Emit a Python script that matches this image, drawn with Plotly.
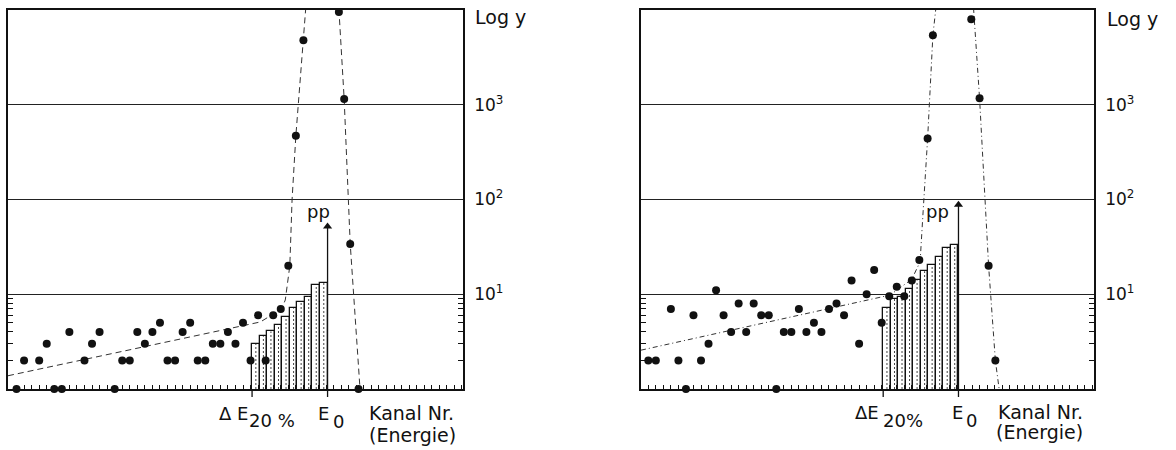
import numpy as np
import plotly.graph_objects as go

# ---------------- data: left panel ----------------
left_channels = [0, 1, 3, 4, 5, 6, 7, 9, 10, 11, 13, 14, 15, 16, 17, 18, 19, 20, 21, 22,
                 23, 24, 25, 26, 27, 28, 29, 30, 31, 32, 33, 34, 35, 36, 37, 38,
                 42.7, 43.4, 44.2, 45.3]
left_counts = [1, 2, 2, 3, 1, 1, 4, 2, 3, 4, 1, 2, 2, 4, 3, 4, 5, 2, 2, 4,
               5, 2, 2, 3, 3, 4, 3, 5, 2, 6, 2, 6, 7, 20, 470, 4800,
               9500, 1150, 34, 1]
left_fit_rise_x = [-1.13, 32.3, 35.1, 35.6, 36.2, 36.5, 37.0, 38.0, 38.3]
left_fit_rise_y = [1.38, 5.1, 7.0, 8.7, 20, 100, 470, 4800, 10200]
left_fit_fall_x = [42.7, 43.4, 44.2, 45.5]
left_fit_fall_y = [10200, 1150, 34, 1.0]
left_bar_x = [31.7, 32.7, 33.7, 34.7, 35.7, 36.7, 37.7, 38.7, 39.7, 40.7]
left_bar_counts = [3.0, 3.6, 4.05, 4.75, 5.7, 7.1, 8.2, 9.45, 12.5, 13.2]
left_pp_top = 52

# ---------------- data: right panel ----------------
right_channels = [0, 1, 3, 4, 5, 6, 7, 8, 9, 10, 11, 12, 13, 14, 15, 16, 17, 18, 19, 20,
                  21, 22, 23, 24, 25, 26, 27, 28, 29, 30, 31, 32, 33, 34, 35, 36,
                  37.1, 37.8, 42.9, 44.0, 45.2, 46.1]
right_counts = [2, 2, 7, 2, 1, 6, 2, 3, 11, 6, 4, 8, 4, 8, 6, 6, 1, 4, 4, 7,
                4, 5, 4, 7, 8, 6, 14, 3, 10, 18, 5, 9.5, 12, 9.5, 14, 23,
                440, 5400, 8000, 1170, 20, 2]
right_fit_rise_x = [-0.97, 32.1, 35.0, 36.1, 36.5, 37.1, 37.8, 38.2]
right_fit_rise_y = [2.57, 9.8, 14.4, 22, 74, 440, 5400, 10500]
right_fit_fall_x = [43.2, 44.0, 45.2, 46.1, 46.6]
right_fit_fall_y = [10500, 1170, 20, 2, 1.0]
right_bar_x = [31.7, 32.7, 33.7, 34.7, 35.7, 36.7, 37.7, 38.7, 39.7, 40.7]
right_bar_counts = [7.2, 8.9, 9.3, 11.3, 14.0, 17.5, 20.4, 24.8, 30.7, 32.8]
right_pp_top = 88

y_tick_vals = [10, 100, 1000]
y_tick_text = ["10<sup>1</sup>", "10<sup>2</sup>", "10<sup>3</sup>"]
minor_vals = [2, 3, 4, 5, 6, 7, 8, 9]

W, H = 1176, 450
FONT = "DejaVu Sans"
INK = "#111111"
Y_RANGE = [0.0, 4.0]


def px(x):
    return x / W


def py(y):
    return 1 - y / H


fig = go.Figure()
shapes = []


def add_panel(xa, ya, ch, counts, fx1, fy1, fx2, fy2, bx, bc, dash, top):
    # bars
    fig.add_trace(go.Bar(x=bx, y=bc, width=[1.0] * len(bx),
                         marker=dict(color="white", line=dict(color=INK, width=1.3)),
                         xaxis=xa, yaxis=ya, showlegend=False, hoverinfo="skip"))
    # dotted centre lines inside bars
    lx, ly = [], []
    base = 10 ** Y_RANGE[0]
    for x, c in zip(bx, bc):
        lx += [x, x, None]
        ly += [base, c, None]
    fig.add_trace(go.Scatter(x=lx, y=ly, mode="lines",
                             line=dict(color="#444", width=1, dash="2px,2px"),
                             xaxis=xa, yaxis=ya, showlegend=False, hoverinfo="skip"))
    # fitted dashed curves
    for fx, fy in ((fx1, fy1), (fx2, fy2)):
        fig.add_trace(go.Scatter(x=fx, y=fy, mode="lines",
                                 line=dict(color="#333", width=1, dash=dash),
                                 xaxis=xa, yaxis=ya, showlegend=False, hoverinfo="skip"))
    # data points
    fig.add_trace(go.Scatter(x=ch, y=counts, mode="markers",
                             marker=dict(color=INK, size=8),
                             cliponaxis=False, xaxis=xa, yaxis=ya, showlegend=False))
    # E0 arrow (pp) and Delta-E marker
    e0 = bx[-1] + 0.5
    de = bx[0] - 0.5
    shapes.append(dict(type="line", xref=xa, yref=ya, x0=e0, x1=e0, y0=base, y1=top,
                       line=dict(color=INK, width=1.3)))
    fig.add_trace(go.Scatter(x=[e0], y=[top], mode="markers",
                             marker=dict(symbol="triangle-up", size=8, color=INK),
                             cliponaxis=False, xaxis=xa, yaxis=ya, showlegend=False,
                             hoverinfo="skip"))
    for xv in (e0, de):
        shapes.append(dict(type="line", xref=xa, yref="paper", x0=xv, x1=xv,
                           y0=py(389), y1=py(397), line=dict(color=INK, width=1.3)))


add_panel("x", "y", left_channels, left_counts, left_fit_rise_x, left_fit_rise_y,
          left_fit_fall_x, left_fit_fall_y, left_bar_x, left_bar_counts, "6px,4px",
          left_pp_top)
add_panel("x2", "y2", right_channels, right_counts, right_fit_rise_x, right_fit_rise_y,
          right_fit_fall_x, right_fit_fall_y, right_bar_x, right_bar_counts,
          "5px,3px,1px,3px", right_pp_top)

xcommon = dict(showline=True, linecolor=INK, linewidth=1.5, mirror=True,
               ticks="inside", ticklen=4, tickwidth=1, tickcolor=INK,
               dtick=1, tick0=0, showticklabels=False, showgrid=False, zeroline=False)
ycommon = dict(type="log", range=Y_RANGE, domain=[py(389), py(10)],
               showline=True, linecolor=INK, linewidth=1.5, mirror="ticks",
               side="right", ticks="", tickvals=y_tick_vals, ticktext=y_tick_text,
               ticklabelstandoff=6,
               tickfont=dict(family=FONT, size=17, color=INK),
               showgrid=True, gridcolor="#222", gridwidth=1, zeroline=False,
               minor=dict(tickvals=minor_vals, ticks="inside", ticklen=5,
                          tickwidth=1, tickcolor=INK, showgrid=False))

fig.update_layout(
    width=W, height=H, margin=dict(l=0, r=0, t=0, b=0),
    paper_bgcolor="white", plot_bgcolor="white", showlegend=False,
    bargap=0,
    xaxis=dict(domain=[px(8), px(463)], range=[-1.13, 59.14], anchor="y", **xcommon),
    xaxis2=dict(domain=[px(641), px(1094)], range=[-0.97, 59.2], anchor="y2", **xcommon),
    yaxis=dict(anchor="x", **ycommon),
    yaxis2=dict(anchor="x2", **ycommon),
    shapes=shapes,
)

ann = []


def label(text, x, y, size=18, anchor="center"):
    ann.append(dict(x=px(x), y=py(y), xref="paper", yref="paper", text=text,
                    showarrow=False, xanchor=anchor, yanchor="middle",
                    font=dict(family=FONT, size=size, color=INK)))


# left panel texts
label("pp", 318, 212)
label("Log y", 473, 17, size=19, anchor="left")
label("Δ E", 233, 413)
label("20 %", 272, 420)
label("E", 324, 413)
label("0", 338, 421)
label("Kanal Nr.", 411, 413, size=19)
label("(Energie)", 412, 435, size=19)
# right panel texts
label("pp", 937, 212)
label("Log y", 1105, 19, size=19, anchor="left")
label("ΔE", 867, 412)
label("20%", 903, 420)
label("E", 957, 412)
label("0", 971, 420)
label("Kanal Nr.", 1040, 412, size=19)
label("(Energie)", 1039, 432, size=19)

fig.update_layout(annotations=ann)
fig.write_html("out.html", config={"displayModeBar": False},
               post_script="document.body.style.margin='0';document.body.style.overflow='hidden';")
